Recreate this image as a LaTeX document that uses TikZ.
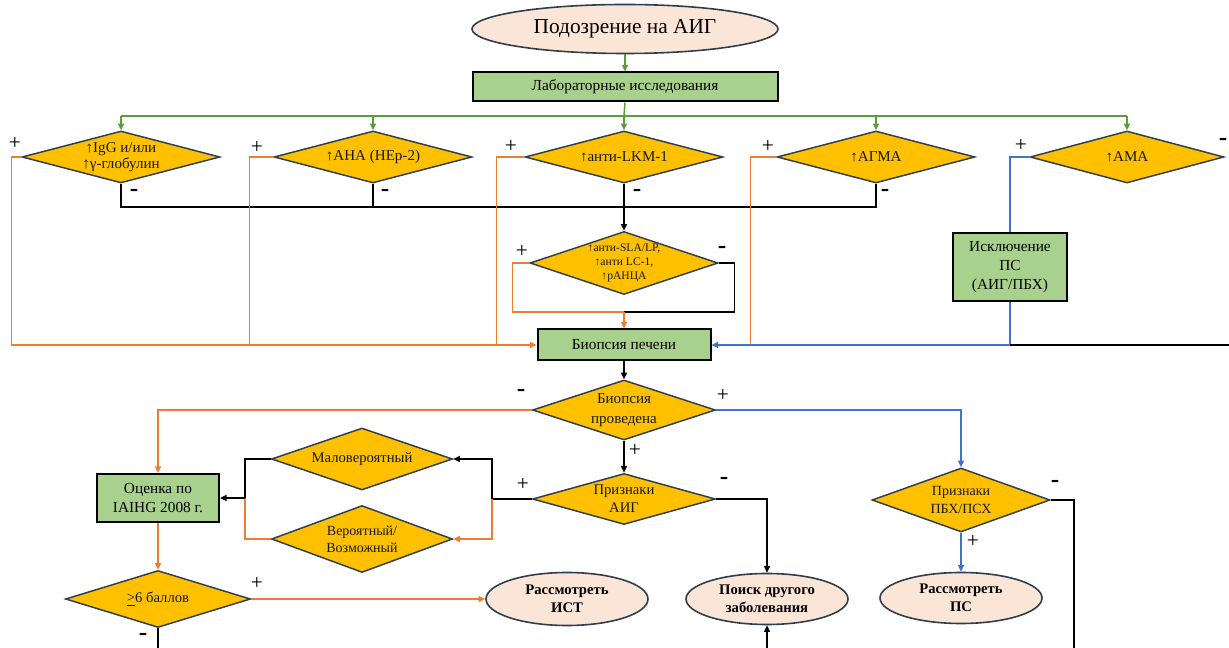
\documentclass[tikz,border=0pt]{standalone}
\usepackage{fontspec}
\setmainfont{Liberation Serif}
\usetikzlibrary{shapes.geometric,arrows.meta,calc}
\definecolor{gold}{HTML}{FFC000}
\definecolor{diab}{HTML}{2F3E4E}
\definecolor{rectg}{HTML}{A9D18E}
\definecolor{peach}{HTML}{FBE5D6}
\definecolor{orng}{HTML}{ED7D31}
\definecolor{blu}{HTML}{4472C4}
\definecolor{grn}{HTML}{5E9B3D}
\begin{document}
\begin{tikzpicture}[x=0.75pt,y=-0.75pt,
  dia/.style n args={2}{diamond, draw=diab, line width=1.1pt, fill=gold, inner sep=0pt,
    minimum width=#1*0.75pt, minimum height=#2*0.75pt},
  box/.style n args={2}{rectangle, draw=black, line width=1.5pt, fill=rectg, inner sep=0pt,
    minimum width=#1*0.75pt, minimum height=#2*0.75pt, align=center,
    font=\fontsize{11.5}{14}\selectfont},
  ell/.style n args={2}{ellipse, draw=diab, line width=1.2pt, fill=peach, inner sep=0pt,
    minimum width=#1*0.75pt, minimum height=#2*0.75pt, align=center},
  txt/.style={align=center, inner sep=0pt, font=\fontsize{11}{13.5}\selectfont, text=black!90},
  rtxt/.style={align=center, inner sep=0pt, font=\fontsize{11.3}{12.5}\selectfont, text=black!90},
  stxt/.style={align=center, inner sep=0pt, font=\fontsize{8.7}{10.5}\selectfont, text=black!90},
  btxt/.style={font=\bfseries\fontsize{11}{13.5}\selectfont},
  ln/.style={line width=1.1pt},
  og/.style={ln, draw=orng},
  bl/.style={ln, draw=blu},
  gn/.style={ln, draw=grn},
  bk/.style={ln, draw=black},
  arr/.style={-{Triangle[length=5pt,width=4.5pt]}},
  pl/.style={inner sep=0pt, font=\fontsize{16}{16}\selectfont},
  mi/.style={inner sep=0pt, font=\bfseries\fontsize{19}{19}\selectfont},
]
\useasboundingbox (0,0) rectangle (1229,648);

% top
\node[ell={306}{49}, font=\fontsize{16}{18}\selectfont] (top) at (625,29) {Подозрение на АИГ};
\node[box={305}{29}] (lab) at (625,87) {Лабораторные исследования};

% first row diamonds
\node[dia={198}{52}] (d1) at (121,157) {};
\node[rtxt] (d1t) at (d1) {↑IgG и/или\\↑γ-глобулин};
\node[dia={198}{52}] (d2) at (373,157) {};
\node[rtxt] (d2t) at (d2) {↑АНА (HEp-2)};
\node[dia={198}{52}] (d3) at (624,157) {};
\node[rtxt] (d3t) at (d3) {↑анти-LKM-1};
\node[dia={198}{52}] (d4) at (876,157) {};
\node[rtxt] (d4t) at (d4) {↑АГМА};
\node[dia={194}{52}] (d5) at (1127,157) {};
\node[rtxt] (d5t) at (d5) {↑АМА};

% SLA diamond
\node[dia={188}{63}] (sla) at (624,263) {};
\node[stxt] (slat) at (sla) {↑анти-SLA/LP,\\↑анти LC-1,\\↑рАНЦА};

% exclusion box
\node[box={114}{68}] (isk) at (1010,267) {Исключение\\ПС\\(АИГ/ПБХ)};

% biopsy
\node[box={173}{31}] (bio) at (624,345) {Биопсия печени};

\node[dia={183}{60}] (bp) at (624,410) {};
\node[txt, font=\fontsize{11.3}{15}\selectfont] (bpt) at (bp) {Биопсия\\проведена};

\node[dia={183}{51}] (pa) at (624,499) {};
\node[txt] (pat) at (pa) {Признаки\\АИГ};

\node[dia={181}{62}] (mal) at (362,459) {};
\node[txt] (malt) at (mal) {Маловероятный};
\node[dia={181}{67}] (ver) at (362,539) {};
\node[txt, font=\fontsize{10.5}{13}\selectfont] (vert) at (ver) {Вероятный/\\Возможный};

\node[box={122}{48}] (oc) at (158,498) {Оценка по\\IAIHG 2008 г.};

\node[dia={185}{57}] (g6) at (158,599) {};
\node[txt] (g6t) at (g6) {\underline{>}6 баллов};

\node[ell={162}{53}, btxt] (ist) at (567,599) {Рассмотреть\\ИСТ};
\node[ell={162}{51}, btxt] (poisk) at (767,599) {Поиск другого\\заболевания};

\node[dia={178}{64}] (pbx) at (961,500) {};
\node[txt, font=\fontsize{10.5}{13}\selectfont] (pbxt) at (pbx) {Признаки\\ПБХ/ПСХ};
\node[ell={162}{51}, btxt] (ps) at (961,598) {Рассмотреть\\ПС};

% ---- connectors ----
\draw[gn,arr] (top.south) -- (lab.north);
\coordinate (gb) at (624,116);
\draw[gn] (lab.south) -- (gb);
\draw[gn] (d1.north |- gb) -- (d5.north |- gb);
\foreach \d in {d1,d2,d3,d4,d5} \draw[gn,arr] (\d.north |- gb) -- (\d.north);

\coordinate (bb) at (624,207);
\draw[bk] (d1.south) -- (d1.south |- bb) -- (d4.south |- bb) -- (d4.south);
\draw[bk] (d2.south) -- (d2.south |- bb);
\draw[bk,arr] (d3.south) -- (sla.north);

\coordinate (sj) at (624,312);
\draw[og] (sla.west) -- ++(-17,0) |- (sj);
\draw[bk] (sla.east) -- ++(16,0) |- (sj);
\draw[og,arr] (sj) -- (bio.north);

\draw[og,arr] (d1.west) -- ++(-10,0) |- (bio.west);
\draw[og] (d2.west) -- ++(-24,0) coordinate (t2) -- (t2 |- bio.west);
\draw[og] (d3.west) -- ++(-28,0) coordinate (t3) -- (t3 |- bio.west);
\draw[og] (d4.west) -- ++(-26,0) coordinate (t4) -- (t4 |- bio.east);

\draw[bl] (d5.west) -| (isk.north);
\draw[bl,arr] (isk.south) |- (bio.east);
\coordinate (re) at (1229,345);
\draw[bk] (re) -- (isk.south |- re);

\draw[bk,arr] (bio.south) -- (bp.north);
\draw[og,arr] (bp.west) -| (oc.north);
\draw[bl,arr] (bp.east) -| (pbx.north);
\draw[bk,arr] (bp.south) -- (pa.north);

\coordinate (pj) at (492,499);
\draw[bk] (pa.west) -- (pj);
\draw[bk,arr] (pj) |- (mal.east);
\draw[og,arr] (pj) |- (ver.east);

\coordinate (mj) at (245,498);
\draw[bk] (mal.west) -| (mj);
\draw[og] (ver.west) -| (mj);
\draw[bk,arr] (mj) -- (oc.east);

\draw[og,arr] (oc.south) -- (g6.north);
\draw[og,arr] (g6.east) -- (ist.west);
\coordinate (be1) at (158,648);
\draw[bk] (g6.south) -- (be1);

\draw[bk,arr] (pa.east) -| (poisk.north);
\coordinate (be2) at (767,648);
\draw[bk,arr] (be2) -- (poisk.south);

\draw[bl,arr] (pbx.south) -- (ps.north);
\coordinate (be3) at (1074,648);
\draw[bk] (pbx.east) -| (be3);

% ---- signs ----
\node[pl] (p1) at (15,143) {+};
\node[mi] (m1) at (134,193) {-};
\node[pl] (p2) at (257,147) {+};
\node[mi] (m2) at (385,193) {-};
\node[pl] (p3) at (511,146) {+};
\node[mi] (m3) at (637,193) {-};
\node[pl] (p4) at (768,146) {+};
\node[mi] (m4) at (885,193) {-};
\node[pl] (p5) at (1021,145) {+};
\node[mi] (m5) at (1223,142) {-};
\node[pl] (p6) at (522,251) {+};
\node[mi] (m6) at (722,250) {-};
\node[mi] (m7) at (521,393) {-};
\node[pl] (p7) at (723,395) {+};
\node[pl] (p8) at (635,450) {+};
\node[pl] (p9) at (523,484) {+};
\node[mi] (m9) at (724,481) {-};
\node[mi] (m10) at (1055,484) {-};
\node[pl] (p10) at (973,541) {+};
\node[pl] (p11) at (257,583) {+};
\node[mi] (m11) at (143,637) {-};
\end{tikzpicture}
\end{document}
